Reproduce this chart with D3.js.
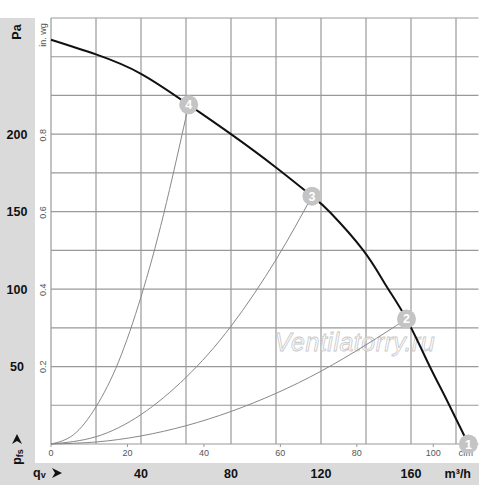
<!DOCTYPE html>
<html>
<head>
<meta charset="utf-8">
<script src="https://cdn.jsdelivr.net/npm/d3@7"></script>
<style>
  body { margin: 0; background: #fff; }
  svg { display: block; font-family: "Liberation Sans", Arial, sans-serif; }
</style>
</head>
<body>
<svg id="chart" width="500" height="485"></svg>
<script>
// fan curve (m3/h -> Pa)
const fanQ = [0, 20, 40, 61.2, 80, 100, 116, 124, 138.8, 148.6, 158, 167.7, 175.5, 185.5];
const fanP = [261, 251.5, 239, 219, 200, 178.5, 160, 149.6, 125, 103, 80.7, 52, 29.5, 0];

// system curves through operating points 4, 3, 2
const sys4Q = [0, 10, 20, 30, 40, 50, 61.2];
const sys4P = [0, 6, 24, 53, 95, 148, 219];
const sys3Q = [0, 20, 40, 60, 80, 100, 116];
const sys3P = [0, 4.7, 19, 43, 76, 119, 160];
const sys2Q = [0, 20, 40, 60, 80, 100, 120, 140, 158];
const sys2P = [0, 1.3, 5.2, 11.8, 21, 32.7, 47, 64, 80.7];

// operating points
const pointIds = ["1", "2", "3", "4"];
const pointQ = [185.5, 158, 116, 61.2];
const pointP = [0, 80.7, 160, 219];

// tick labels
const paTicks = [50, 100, 150, 200];
const wgTicks = [0.2, 0.4, 0.6, 0.8];
const m3hTicks = [40, 80, 120, 160];
const cfmTicks = [0, 20, 40, 60, 80, 100];

const svg = d3.select('#chart');

const x = d3.scaleLinear().domain([0, 190]).range([51, 478.5]);
const y = d3.scaleLinear().domain([0, 275]).range([444, 18]);
// secondary units
const xCfm = d3.scaleLinear().domain([0, 190 / 1.699]).range(x.range());
const yWg = d3.scaleLinear().domain([0, 275 / 249.09]).range(y.range());

// grey bands
svg.append('rect').attr('x', 0).attr('y', 18).attr('width', 35).attr('height', 467).attr('fill', '#dadada');
svg.append('rect').attr('x', 0).attr('y', 463).attr('width', 479).attr('height', 22).attr('fill', '#dadada');

// grid
const grid = svg.append('g').attr('stroke', '#999').attr('stroke-width', 1.2);
grid.selectAll('line.v')
    .data(d3.range(0, 181, 20))
    .join('line')
    .attr('x1', d => x(d)).attr('x2', d => x(d))
    .attr('y1', y(0)).attr('y2', y(275));
grid.selectAll('line.h')
    .data(d3.range(0, 276, 25))
    .join('line')
    .attr('class', 'h')
    .attr('x1', x(0)).attr('x2', x(190))
    .attr('y1', d => y(d)).attr('y2', d => y(d));

// cfm ticks + labels
svg.append('g').selectAll('line')
    .data(cfmTicks)
    .join('line')
    .attr('x1', d => xCfm(d)).attr('x2', d => xCfm(d))
    .attr('y1', y(0)).attr('y2', y(0) + 3)
    .attr('stroke', '#999');
svg.append('g').selectAll('text')
    .data(cfmTicks)
    .join('text')
    .attr('x', d => xCfm(d))
    .attr('y', 456)
    .attr('text-anchor', 'middle')
    .attr('font-size', 9)
    .attr('fill', '#555')
    .text(d => d);
svg.append('text')
    .attr('x', xCfm(108.5)).attr('y', 456)
    .attr('text-anchor', 'middle').attr('font-size', 9).attr('fill', '#555')
    .text('cfm');

// in. wg labels (rotated)
svg.append('g').selectAll('text')
    .data(wgTicks)
    .join('text')
    .attr('transform', d => `translate(46,${yWg(d)}) rotate(-90)`)
    .attr('text-anchor', 'middle')
    .attr('font-size', 9)
    .attr('fill', '#555')
    .text(d => d);
svg.append('text')
    .attr('transform', 'translate(46,35) rotate(-90)')
    .attr('text-anchor', 'middle').attr('font-size', 9).attr('fill', '#555')
    .text('in. wg');

// Pa labels on the band
svg.append('g').selectAll('text')
    .data(paTicks)
    .join('text')
    .attr('x', 17)
    .attr('y', d => y(d) + 4.5)
    .attr('text-anchor', 'middle')
    .attr('font-size', 12.5)
    .attr('font-weight', 'bold')
    .attr('fill', '#111')
    .text(d => d);
svg.append('text')
    .attr('transform', 'translate(21,32) rotate(-90)')
    .attr('text-anchor', 'middle').attr('font-size', 12.5).attr('font-weight', 'bold').attr('fill', '#111')
    .text('Pa');

// m3/h labels on the band
svg.append('g').selectAll('text')
    .data(m3hTicks)
    .join('text')
    .attr('x', d => x(d))
    .attr('y', 478)
    .attr('text-anchor', 'middle')
    .attr('font-size', 12.5)
    .attr('font-weight', 'bold')
    .attr('fill', '#111')
    .text(d => d);
svg.append('text')
    .attr('x', 471).attr('y', 478)
    .attr('text-anchor', 'end').attr('font-size', 12.5).attr('font-weight', 'bold').attr('fill', '#111')
    .text('m³/h');

// quantity symbols with arrows
const pfs = svg.append('text')
    .attr('transform', 'translate(21,457) rotate(-90)')
    .attr('text-anchor', 'middle').attr('font-size', 12.5).attr('font-weight', 'bold').attr('fill', '#111');
pfs.append('tspan').text('p');
pfs.append('tspan').attr('font-size', 9).attr('dy', 2).text('fs');
const qv = svg.append('text')
    .attr('x', 33).attr('y', 477)
    .attr('font-size', 12.5).attr('font-weight', 'bold').attr('fill', '#111');
qv.append('tspan').text('q');
qv.append('tspan').attr('font-size', 9).attr('dy', 1).text('v');

const arrow = d3.line()([[0, -5], [10, 0], [0, 5], [3, 0]]) + 'Z';
svg.append('path').attr('d', arrow).attr('fill', '#111')
    .attr('transform', 'translate(52,473)');
svg.append('path').attr('d', arrow).attr('fill', '#111')
    .attr('transform', 'translate(17,444) rotate(-90)');

// watermark
svg.append('text')
    .attr('x', 355).attr('y', 351)
    .attr('text-anchor', 'middle')
    .attr('font-size', 25)
    .attr('font-style', 'italic')
    .attr('fill', '#fff')
    .attr('fill-opacity', 0.6)
    .attr('stroke', '#c8c8c8')
    .attr('stroke-width', 0.8)
    .attr('letter-spacing', 0.5)
    .text('Ventilatorry.ru');

// curves
const line = d3.line()
    .x(d => x(d[0]))
    .y(d => y(d[1]))
    .curve(d3.curveNatural);

[[sys4Q, sys4P], [sys3Q, sys3P], [sys2Q, sys2P]].forEach(([qs, ps]) => {
    svg.append('path')
        .attr('d', line(d3.zip(qs, ps)))
        .attr('fill', 'none')
        .attr('stroke', '#888')
        .attr('stroke-width', 1);
});

svg.append('path')
    .attr('d', line(d3.zip(fanQ, fanP)))
    .attr('fill', 'none')
    .attr('stroke', '#111')
    .attr('stroke-width', 2);

// operating point markers
const pts = svg.append('g').selectAll('g')
    .data(d3.zip(pointIds, pointQ, pointP))
    .join('g')
    .attr('transform', d => `translate(${x(d[1])},${y(d[2])})`);
pts.append('circle').attr('r', 9.5).attr('fill', '#c4c4c4');
pts.append('text')
    .attr('y', 4.5)
    .attr('text-anchor', 'middle')
    .attr('font-size', 12.5)
    .attr('font-weight', 'bold')
    .attr('fill', '#fff')
    .text(d => d[0]);
</script>
</body>
</html>
